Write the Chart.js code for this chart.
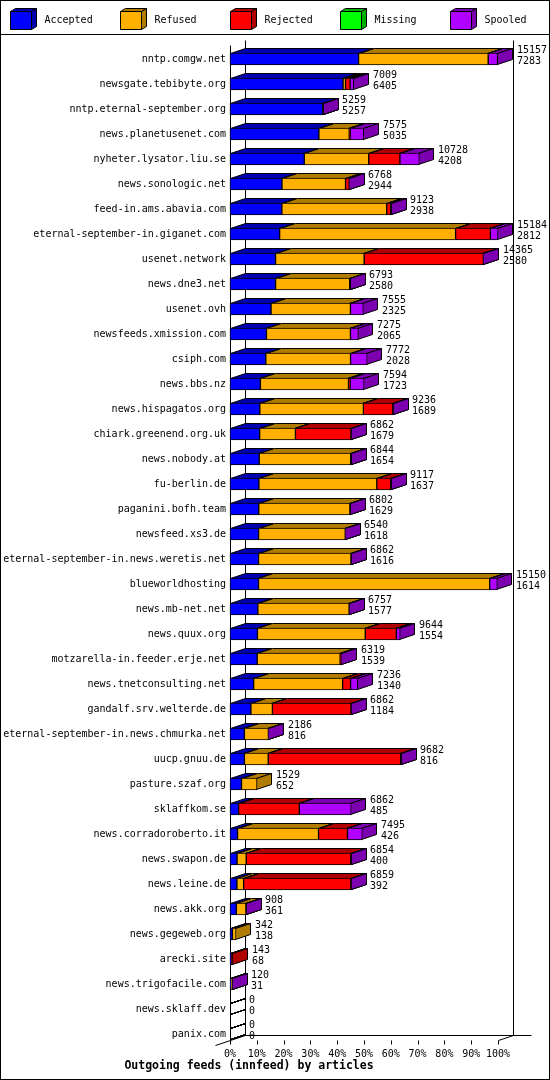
<!DOCTYPE html>
<html>
<head>
<meta charset="utf-8">
<title>Outgoing feeds (innfeed) by articles</title>
<script src="https://cdn.jsdelivr.net/npm/chart.js"></script>
<style>
  html, body { margin: 0; padding: 0; background: #fff; }
  canvas { display: block; }
</style>
</head>
<body>
<canvas id="feeds" width="550" height="1080"></canvas>
<script>
const hosts = [
  "nntp.comgw.net", "newsgate.tebibyte.org", "nntp.eternal-september.org",
  "news.planetusenet.com", "nyheter.lysator.liu.se", "news.sonologic.net",
  "feed-in.ams.abavia.com", "eternal-september-in.giganet.com", "usenet.network",
  "news.dne3.net", "usenet.ovh", "newsfeeds.xmission.com", "csiph.com",
  "news.bbs.nz", "news.hispagatos.org", "chiark.greenend.org.uk", "news.nobody.at",
  "fu-berlin.de", "paganini.bofh.team", "newsfeed.xs3.de",
  "eternal-september-in.news.weretis.net", "blueworldhosting", "news.mb-net.net",
  "news.quux.org", "motzarella-in.feeder.erje.net", "news.tnetconsulting.net",
  "gandalf.srv.welterde.de", "eternal-september-in.news.chmurka.net", "uucp.gnuu.de",
  "pasture.szaf.org", "sklaffkom.se", "news.corradoroberto.it", "news.swapon.de",
  "news.leine.de", "news.akk.org", "news.gegeweb.org", "arecki.site",
  "news.trigofacile.com", "news.sklaff.dev", "panix.com"
];

// numbers printed next to each bar
const offered = [15157, 7009, 5259, 7575, 10728, 6768, 9123, 15184, 14365, 6793,
  7555, 7275, 7772, 7594, 9236, 6862, 6844, 9117, 6802, 6540,
  6862, 15150, 6757, 9644, 6319, 7236, 6862, 2186, 9682, 1529,
  6862, 7495, 6854, 6859, 908, 342, 143, 120, 0, 0];
const accepted = [7283, 6405, 5257, 5035, 4208, 2944, 2938, 2812, 2580, 2580,
  2325, 2065, 2028, 1723, 1689, 1679, 1654, 1637, 1629, 1618,
  1616, 1614, 1577, 1554, 1539, 1340, 1184, 816, 816, 652,
  485, 426, 400, 392, 361, 138, 68, 31, 0, 0];

// read off the bar segments (null = segment not drawn at all)
const refused = [7344, 140, 0, 1720, 3650, 3600, 5940, 9970, 5020, 4200,
  4500, 4760, 4800, 4990, 5870, 2030, 5180, 6680, 5163, 4912,
  5236, 13100, 5170, 6110, 4700, 5040, 1220, 1360, 1350, 877,
  0, 4590, 520, 380, 540, 204, 0, 85, 0, 0];
const rejected = [0, 260, 0, 60, 1770, 210, 230, 1970, 6755, 0,
  0, 0, 0, 90, 1665, 3140, 0, 790, 0, 0,
  0, 0, 0, 1760, 70, 450, 4448, 0, 7506, null,
  3440, 1640, 5924, 6077, 0, null, 75, 0, 0, 0];
const missing = [0, 0, 0, 0, 0, 0, 0, 0, 0, 0,
  0, 0, 0, 0, 0, 0, 0, 0, 0, 0,
  0, 0, 0, 0, 0, 0, 0, 0, 0, null,
  0, 0, 0, 0, 0, null, null, 0, 0, 0];
const spooled = [530, 204, 2, 760, 1100, 14, 15, 432, 10, 13,
  730, 450, 944, 791, 12, 13, 10, 10, 10, 10,
  10, 436, 10, 220, 10, 406, 10, 10, 10, null,
  2937, 839, 10, 10, 7, null, null, 4, 0, 0];

const percentTicks = [0, 10, 20, 30, 40, 50, 60, 70, 80, 90, 100];

const seriesNames = ["Accepted", "Refused", "Rejected", "Missing", "Spooled"];
const frontColours = ["#0000ff", "#ffb000", "#ff0000", "#00ff00", "#b000ff"];
const shadeColours = ["#0000b0", "#b07c00", "#b00000", "#00b000", "#7c00b0"];

const MONO = '"DejaVu Sans Mono", "Liberation Mono", monospace';
const DX = 15, DY = 5, HALF = 6;

const maxOffered = Math.max(...offered);
const toPct = arr => arr.map(v => v === null ? null : v / maxOffered * 100);

const series = [accepted, refused, rejected, missing, spooled];

function poly(ctx, pts, fill) {
  ctx.beginPath();
  ctx.moveTo(pts[0][0], pts[0][1]);
  for (let k = 1; k < pts.length; k++) ctx.lineTo(pts[k][0], pts[k][1]);
  ctx.closePath();
  if (fill) {
    ctx.fillStyle = fill;
    ctx.fill();
  }
  ctx.stroke();
}

function line(ctx, ax, ay, bx, by) {
  ctx.beginPath();
  ctx.moveTo(ax, ay);
  ctx.lineTo(bx, by);
  ctx.stroke();
}

// draws the walls, the top and side faces of the bars, the numbers and the legend
const box3d = {
  id: "box3d",
  beforeDatasetsDraw(chart) {
    const { ctx, chartArea, scales: { x, y } } = chart;
    const x0 = Math.round(x.getPixelForValue(0)) + 0.5;
    const x1 = Math.round(x.getPixelForValue(100)) + 0.5;
    const floor = Math.round(y.getPixelForValue(hosts.length - 1) + HALF) + 0.5;
    const wallTop = Math.round(chartArea.top - 19) + 0.5;
    ctx.save();
    ctx.strokeStyle = "#000";
    ctx.lineWidth = 1;
    line(ctx, x0, wallTop + DY, x0, floor);
    line(ctx, x0 + DX, wallTop, x0 + DX, floor - DY);
    line(ctx, x1 + DX, wallTop, x1 + DX, floor - DY);
    line(ctx, x0 + DX, floor - DY, x1 + DX + 18, floor - DY);
    line(ctx, x0 - DX, floor + DY, x0 + DX, floor - DY);
    line(ctx, x1, floor, x1 + DX, floor - DY);
    percentTicks.forEach(t => {
      const tx = Math.round(x.getPixelForValue(t)) + 0.5;
      line(ctx, tx, floor, tx, floor + 4);
    });

    hosts.forEach((h, i) => {
      chart.data.datasets.forEach((ds, d) => {
        if (ds.data[i] === null) return;
        const el = chart.getDatasetMeta(d).data[i];
        const L = Math.round(Math.min(el.x, el.base)) + 0.5;
        let R = Math.round(Math.max(el.x, el.base)) - 0.5;
        if (R < L) R = L;
        const T = Math.round(el.y - HALF) + 0.5;
        const B = Math.round(el.y + HALF) - 0.5;
        const fill = series[d][i] > 0 ? shadeColours[d] : null;
        poly(ctx, [[L, T], [R, T], [R + DX, T - DY], [L + DX, T - DY]], fill);
        poly(ctx, [[R, T], [R + DX, T - DY], [R + DX, B - DY], [R, B]], fill);
      });
    });
    ctx.restore();
  },
  afterDatasetsDraw(chart) {
    const { ctx, scales: { x } } = chart;
    ctx.save();
    ctx.fillStyle = "#000";
    ctx.font = "10px " + MONO;
    ctx.textAlign = "left";
    ctx.textBaseline = "middle";
    hosts.forEach((h, i) => {
      let right = x.getPixelForValue(0);
      let cy = 0;
      chart.data.datasets.forEach((ds, d) => {
        if (ds.data[i] === null) return;
        const el = chart.getDatasetMeta(d).data[i];
        right = Math.max(right, el.x, el.base);
        cy = el.y;
      });
      const tx = Math.round(right) + DX + 4;
      ctx.fillText(String(offered[i]), tx, cy - 8.5);
      ctx.fillText(String(accepted[i]), tx, cy + 2);
    });
    ctx.restore();
  },
  afterDraw(chart) {
    const { ctx, width, height } = chart;
    ctx.save();
    ctx.strokeStyle = "#000";
    ctx.lineWidth = 1;
    ctx.strokeRect(0.5, 0.5, width - 1, height - 1);
    line(ctx, 0, 34.5, width, 34.5);
    ctx.font = "10px " + MONO;
    ctx.textAlign = "left";
    ctx.textBaseline = "middle";
    seriesNames.forEach((name, k) => {
      const bx = 10.5 + 110 * k, by = 11.5, w = 21, hh = 18, ddx = 5, ddy = 3;
      poly(ctx, [[bx, by], [bx + w, by], [bx + w + ddx, by - ddy], [bx + ddx, by - ddy]], shadeColours[k]);
      poly(ctx, [[bx + w, by], [bx + w + ddx, by - ddy], [bx + w + ddx, by + hh - ddy], [bx + w, by + hh]], shadeColours[k]);
      poly(ctx, [[bx, by], [bx + w, by], [bx + w, by + hh], [bx, by + hh]], frontColours[k]);
      ctx.fillStyle = "#000";
      ctx.fillText(name, bx + 34, 20.5);
    });
    ctx.restore();
  }
};

const data = {
  labels: hosts,
  datasets: seriesNames.map((name, k) => ({
    label: name,
    data: toPct(series[k]),
    backgroundColor: frontColours[k],
    borderColor: "#000",
    borderWidth: 1,
    borderSkipped: false,
    barThickness: 12,
    clip: false
  }))
};

const config = {
  type: "bar",
  data: data,
  options: {
    indexAxis: "y",
    responsive: false,
    animation: false,
    devicePixelRatio: 1,
    layout: { padding: { top: 59, right: 52, left: 0, bottom: 0 } },
    scales: {
      x: {
        stacked: true,
        min: 0,
        max: 100,
        afterBuildTicks: s => { s.ticks = percentTicks.map(v => ({ value: v })); },
        afterFit: s => { s.height = 26.25; },
        grid: { display: false, drawTicks: false },
        border: { display: false },
        ticks: {
          padding: 14,
          color: "#000",
          font: { family: MONO, size: 10 },
          maxRotation: 0,
          autoSkip: false,
          callback: v => v + "%"
        }
      },
      y: {
        stacked: true,
        offset: false,
        afterFit: s => { s.width = 230; },
        grid: { display: false, drawTicks: false },
        border: { display: false },
        ticks: {
          padding: 4,
          color: "#000",
          font: { family: MONO, size: 10 },
          autoSkip: false
        }
      }
    },
    plugins: {
      legend: { display: false },
      tooltip: { enabled: false },
      title: {
        display: true,
        position: "bottom",
        text: "Outgoing feeds (innfeed) by articles",
        color: "#000",
        font: { family: MONO, size: 11.5, weight: "bold", lineHeight: 1 },
        padding: { top: 0, bottom: 8.25 }
      }
    }
  },
  plugins: [box3d]
};

new Chart(document.getElementById("feeds"), config);
</script>
</body>
</html>
